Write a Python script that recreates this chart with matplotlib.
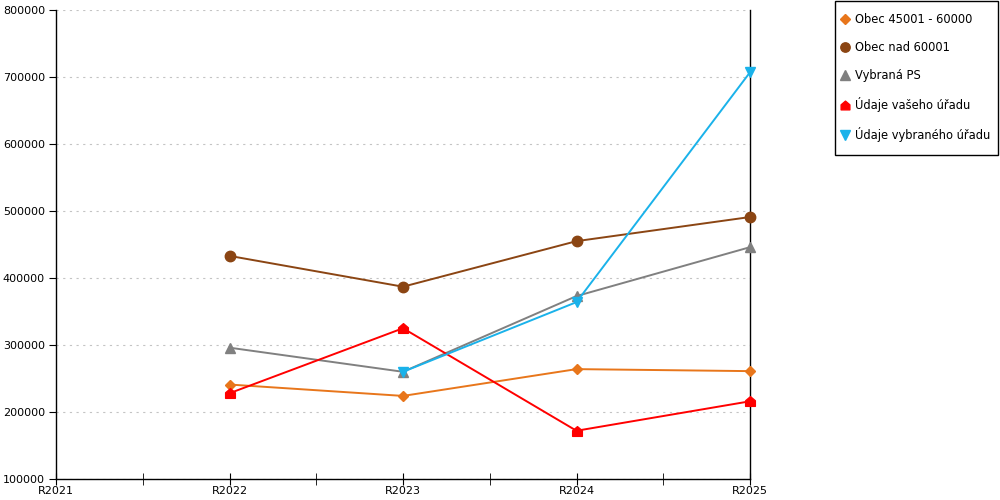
import matplotlib
matplotlib.use("Agg")
import matplotlib.pyplot as plt
from matplotlib.path import Path
from matplotlib.patches import Rectangle
from matplotlib.ticker import MultipleLocator

years = [2022, 2023, 2024, 2025]
x_labels = ["R2021", "R2022", "R2023", "R2024", "R2025"]
x_ticks = [2021, 2022, 2023, 2024, 2025]

obec_45 = [241000, 224000, 264000, 261000]
obec_60 = [433000, 387000, 455000, 491000]
vybrana_ps = [296000, 260000, 373000, 446000]
vas_urad = [228000, 325000, 172000, 216000]
vybrany_urad = [None, 260000, 364000, 707000]

# house shaped marker for the red series
house = Path([(-1, -1), (1, -1), (1, 0.15), (0, 1), (-1, 0.15), (-1, -1)],
             [Path.MOVETO] + [Path.LINETO] * 4 + [Path.CLOSEPOLY])

series = [
    ("Obec 45001 - 60000", obec_45, "#E8761B", "D", 5.5),
    ("Obec nad 60001", obec_60, "#8B4513", "o", 7.5),
    ("Vybraná PS", vybrana_ps, "#808080", "^", 7.5),
    ("Údaje vašeho úřadu", vas_urad, "#FF0000", house, 7),
    ("Údaje vybraného úřadu", vybrany_urad, "#1AB2EA", "v", 7.5),
]

fig = plt.figure(figsize=(10, 5), dpi=100)
ax = fig.add_axes([0.056, 0.042, 0.694, 0.938])

for name, vals, col, mk, ms in series:
    xs = [x for x, v in zip(years, vals) if v is not None]
    ys = [v for v in vals if v is not None]
    ax.plot(xs, ys, color=col, marker=mk, markersize=ms, linewidth=1.4,
            label=name, clip_on=False, zorder=3)

ax.set_xlim(2021, 2025)
ax.set_ylim(100000, 800000)
ax.set_xticks(x_ticks)
ax.set_xticklabels(x_labels)
ax.xaxis.set_minor_locator(MultipleLocator(0.5))
ax.yaxis.set_major_locator(MultipleLocator(100000))
ax.yaxis.grid(True, linestyle=(0, (2, 4)), color="#C4C4C4", linewidth=0.8)
ax.set_axisbelow(True)

ax.spines["top"].set_visible(False)
for s in ["left", "bottom", "right"]:
    ax.spines[s].set_linewidth(1.0)
    ax.spines[s].set_color("black")

ax.tick_params(axis="x", which="both", direction="inout", length=8, labelsize=8, pad=1)
ax.tick_params(axis="y", direction="out", length=5, labelsize=8, right=False, pad=3)

# legend box drawn by hand, entries placed inside it
fig.patches.append(Rectangle((0.835, 0.69), 0.163, 0.308, transform=fig.transFigure,
                             fill=False, edgecolor="black", linewidth=1.0))
leg = fig.legend(handles=ax.get_lines(), loc="upper left",
                 bbox_to_anchor=(0.841, 0.974), frameon=False,
                 fontsize=8.3, labelspacing=1.31, handlelength=0.7,
                 handletextpad=0.5, borderpad=0.0, borderaxespad=0.0,
                 markerscale=0.9)
for h in leg.legend_handles:
    h.set_linestyle("none")

fig.savefig("out.png", dpi=100)
